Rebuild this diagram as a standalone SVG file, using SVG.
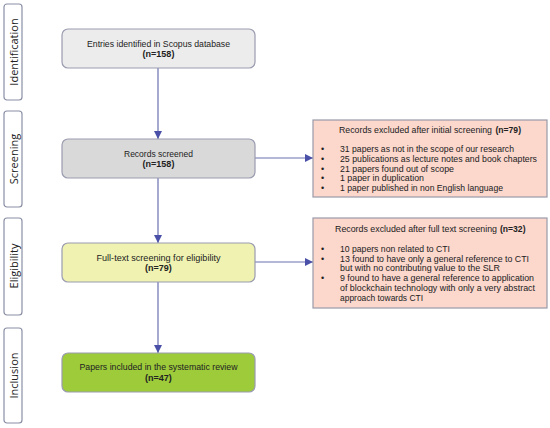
<svg xmlns="http://www.w3.org/2000/svg" width="550" height="428" viewBox="0 0 550 428">
<style>
text{font-family:"Liberation Sans","Open Sans",sans-serif;fill:#222}
.side rect{fill:#fff;stroke:#8a8fa6;stroke-width:1.2}
.side text{font-family:"Open Sans","Liberation Sans",sans-serif;font-size:11px;text-anchor:middle}
.main rect{stroke:#9a9cb0;stroke-width:1.2}
.main text{font-size:9px;text-anchor:middle}
.b{font-weight:bold}
.ex rect{fill:#fbd7cc;stroke:#9a9aa8;stroke-width:1.2}
.ex text{font-size:9px}
.conn line{stroke:#6b70b0;stroke-width:1.2}
</style>
<defs>
<marker id="ah" viewBox="0 0 10 10" refX="10" refY="5" markerWidth="8" markerHeight="8" orient="auto" markerUnits="userSpaceOnUse">
<path d="M0,0 L10,5 L0,10 z" fill="#4a50a8"/>
</marker>
</defs>
<g id="side-identification" class="side"><rect x="4" y="4" width="18" height="96" rx="3"/><text transform="translate(17.5,52) rotate(-90)">Identification</text></g>
<g id="side-screening" class="side"><rect x="4" y="111" width="18" height="96" rx="3"/><text transform="translate(17.5,159) rotate(-90)">Screening</text></g>
<g id="side-eligibility" class="side"><rect x="4" y="218" width="18" height="97" rx="3"/><text transform="translate(17.5,266) rotate(-90)">Eligibility</text></g>
<g id="side-inclusion" class="side"><rect x="4" y="328" width="18" height="95" rx="3"/><text transform="translate(17.5,375.5) rotate(-90)">Inclusion</text></g>

<g id="conn">
<g class="conn">
<line x1="158" y1="68" x2="158" y2="139" marker-end="url(#ah)"/>
<line x1="158" y1="178" x2="158" y2="243" marker-end="url(#ah)"/>
<line x1="158" y1="282" x2="158" y2="353" marker-end="url(#ah)"/>
<line x1="255" y1="158" x2="313" y2="158" marker-end="url(#ah)"/>
<line x1="255" y1="262" x2="313" y2="262" marker-end="url(#ah)"/>
</g>
</g>

<g id="entries" class="main"><rect x="62" y="29" width="193" height="39" rx="6" fill="#ececec"/><text x="158.5" y="46.5" textLength="143" lengthAdjust="spacingAndGlyphs">Entries identified in Scopus database</text><text x="158.5" y="56.5" class="b">(n=158)</text></g>
<g id="screened" class="main"><rect x="62" y="139" width="193" height="39" rx="6" fill="#d9d9d9"/><text x="158.5" y="156.5" textLength="69" lengthAdjust="spacingAndGlyphs">Records screened</text><text x="158.5" y="166.5" class="b">(n=158)</text></g>
<g id="fulltext" class="main"><rect x="62" y="243" width="193" height="39" rx="6" fill="#eff2b0"/><text x="158.5" y="260.5" textLength="124" lengthAdjust="spacingAndGlyphs">Full-text screening for eligibility</text><text x="158.5" y="270.5" class="b">(n=79)</text></g>
<g id="included" class="main"><rect x="62" y="353" width="193" height="39" rx="6" fill="#9dcb3a"/><text x="158.5" y="370" textLength="158" lengthAdjust="spacingAndGlyphs">Papers included in the systematic review</text><text x="158.5" y="380.5" class="b">(n=47)</text></g>

<g id="excluded1" class="ex"><rect x="313" y="120" width="234" height="77"/>
<text x="339" y="133" textLength="153" lengthAdjust="spacingAndGlyphs">Records excluded after initial screening</text><text x="495.5" y="133" class="b" textLength="25.5" lengthAdjust="spacingAndGlyphs">(n=79)</text>
<text x="321" y="152">•</text><text x="340" y="152" textLength="174" lengthAdjust="spacingAndGlyphs">31 papers as not in the scope of our research</text>
<text x="321" y="162">•</text><text x="340" y="162" textLength="197" lengthAdjust="spacingAndGlyphs">25 publications as lecture notes and book chapters</text>
<text x="321" y="171.5">•</text><text x="340" y="171.5" textLength="114" lengthAdjust="spacingAndGlyphs">21 papers found out of scope</text>
<text x="321" y="181">•</text><text x="340" y="181" textLength="84" lengthAdjust="spacingAndGlyphs">1 paper in duplication</text>
<text x="321" y="191">•</text><text x="340" y="191" textLength="163" lengthAdjust="spacingAndGlyphs">1 paper published in non English language</text>
</g>
<g id="excluded2" class="ex"><rect x="313" y="218" width="234" height="90"/>
<text x="335" y="232" textLength="162" lengthAdjust="spacingAndGlyphs">Records excluded after full text screening</text><text x="500" y="232" class="b" textLength="25.5" lengthAdjust="spacingAndGlyphs">(n=32)</text>
<text x="321" y="252">•</text><text x="340" y="252" textLength="110" lengthAdjust="spacingAndGlyphs">10 papers non related to CTI</text>
<text x="321" y="262">•</text><text x="340" y="262" textLength="189" lengthAdjust="spacingAndGlyphs">13 found to have  only a general reference to CTI</text>
<text x="340" y="271" textLength="160" lengthAdjust="spacingAndGlyphs">but with no contributing value to the SLR</text>
<text x="321" y="281">•</text><text x="340" y="281" textLength="194" lengthAdjust="spacingAndGlyphs">9 found to have a general reference to application</text>
<text x="340" y="291" textLength="195" lengthAdjust="spacingAndGlyphs">of blockchain technology with only a very abstract</text>
<text x="340" y="300.5" textLength="83" lengthAdjust="spacingAndGlyphs">approach towards CTI</text>
</g>
</svg>
